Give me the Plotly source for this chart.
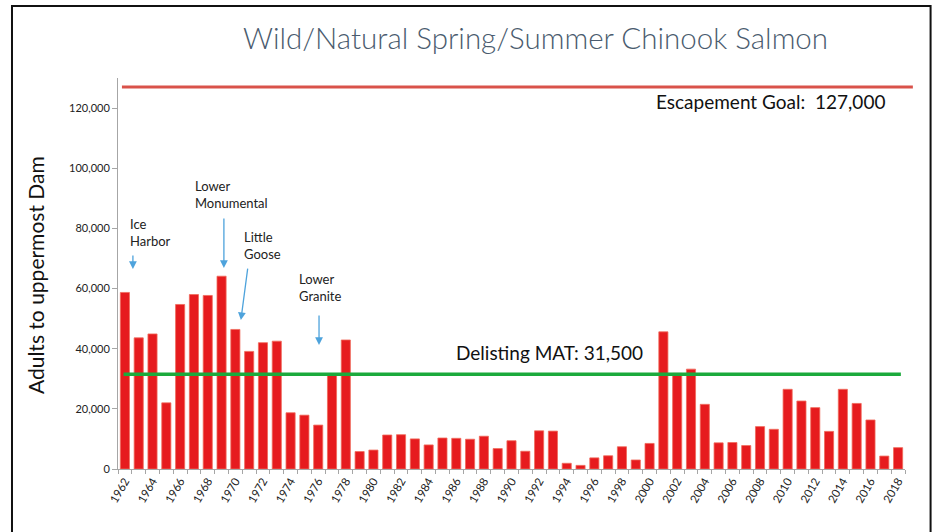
import plotly.graph_objects as go

years = list(range(1962, 2019))
adults = [58700, 43600, 44900, 22000, 54700, 58000, 57700, 64100, 46400, 39100,
          42000, 42500, 18700, 17900, 14600, 31100, 42900, 5800, 6300, 11300,
          11400, 10000, 8000, 10300, 10200, 9900, 10900, 6800, 9400, 5900,
          12700, 12600, 1900, 1200, 3700, 4400, 7400, 3000, 8500, 45600,
          31800, 33200, 21500, 8700, 8800, 7800, 14100, 13200, 26500, 22600,
          20400, 12500, 26500, 21800, 16300, 4300, 7100]
escapement_goal = 127000
delisting_mat = 31500
tick_years = list(range(1962, 2019, 2))

dams = ["Ice<br>Harbor", "Lower<br>Monumental", "Little<br>Goose", "Lower<br>Granite"]

FONT = "Lato"

fig = go.Figure()
fig.add_trace(go.Bar(
    x=years, y=adults,
    marker=dict(color="#E61B1E", line=dict(color="#F06A5A", width=0.8)),
    width=0.66, showlegend=False, hoverinfo="skip",
))

# reference lines
fig.add_shape(type="line", xref="paper", yref="y", x0=0.005, x1=1.01,
              y0=escapement_goal, y1=escapement_goal,
              line=dict(color="#D9524A", width=3))
fig.add_shape(type="line", xref="x", yref="y", x0=years[0] - 0.1, x1=years[-1] + 0.2,
              y0=delisting_mat, y1=delisting_mat,
              line=dict(color="#1BAA3C", width=3.5))

# frame
fig.add_shape(type="rect", xref="paper", yref="paper",
              x0=-0.1347, x1=1.0325, y0=-0.175, y1=1.184,
              line=dict(color="#111111", width=2), layer="below")

ann = []
ann.append(dict(text="Wild/Natural Spring/Summer Chinook Salmon", xref="paper", yref="paper",
                x=0.53, y=1.104, xanchor="center", yanchor="middle", showarrow=False,
                font=dict(family=FONT, size=29.5, color="#4A5B6E", weight=300)))
ann.append(dict(text="Adults to uppermost Dam", xref="paper", yref="paper",
                x=-0.1055, y=0.496, xanchor="center", yanchor="middle", showarrow=False,
                textangle=-90, font=dict(family=FONT, size=21, color="#111111")))
ann.append(dict(text="Escapement Goal:  " + f"{escapement_goal:,}", xref="paper", yref="y",
                x=0.977, y=122200, xanchor="right", yanchor="middle", showarrow=False,
                font=dict(family=FONT, size=19, color="#111111")))
ann.append(dict(text="Delisting MAT: " + f"{delisting_mat:,}", xref="x", yref="y",
                x=1985.85, y=38600, xanchor="left", yanchor="middle", showarrow=False,
                font=dict(family=FONT, size=19, color="#111111")))

# dam labels
label_pos = [(1962.25, 78500), (1966.95, 91300), (1970.45, 74200), (1974.45, 60500)]
for t, (lx, ly) in zip(dams, label_pos):
    ann.append(dict(text=t, xref="x", yref="y", x=lx, y=ly, xanchor="left",
                    yanchor="middle", showarrow=False, align="left",
                    font=dict(family=FONT, size=13, color="#222222")))

# arrows (head position, tail offsets in px)
arrows = [(1962.58, 66500, 0, -15), (1969.17, 66800, 0, -51),
          (1970.4, 49500, 7, -53), (1976.06, 41200, 0, -31)]
for hx, hy, ax, ay in arrows:
    ann.append(dict(text="", xref="x", yref="y", x=hx, y=hy, ax=ax, ay=ay,
                    showarrow=True, arrowhead=2, arrowsize=1.2, arrowwidth=1.3,
                    arrowcolor="#4EA3DC"))

fig.update_layout(
    width=937, height=532,
    margin=dict(l=118, r=32, t=78, b=63, autoexpand=False),
    paper_bgcolor="white", plot_bgcolor="white",
    annotations=ann,
    bargap=0.34,
    xaxis=dict(range=[1961.5, 2018.5], tickmode="array", tickvals=tick_years,
               ticktext=[str(y) for y in tick_years], tickangle=-60,
               ticks="", showline=True, linecolor="#A6A6A6", linewidth=1,
               showgrid=False, zeroline=False, automargin=False,
               tickfont=dict(family=FONT, size=11.5, color="#222222"),
               minor=dict(tickmode="linear", tick0=1961.5, dtick=1, ticks="outside",
                          ticklen=4, tickcolor="#A6A6A6", showgrid=False)),
    yaxis=dict(range=[0, 130000], tickvals=[0, 20000, 40000, 60000, 80000, 100000, 120000],
               tickformat=",d", ticks="outside", ticklen=5, tickcolor="#A6A6A6",
               showline=True, linecolor="#A6A6A6", linewidth=1, showgrid=False,
               zeroline=False, automargin=False,
               tickfont=dict(family=FONT, size=11, color="#222222")),
)

fig.write_html("out.html", config={"displayModeBar": False},
               post_script="document.body.style.margin='0';document.body.style.overflow='hidden';")
